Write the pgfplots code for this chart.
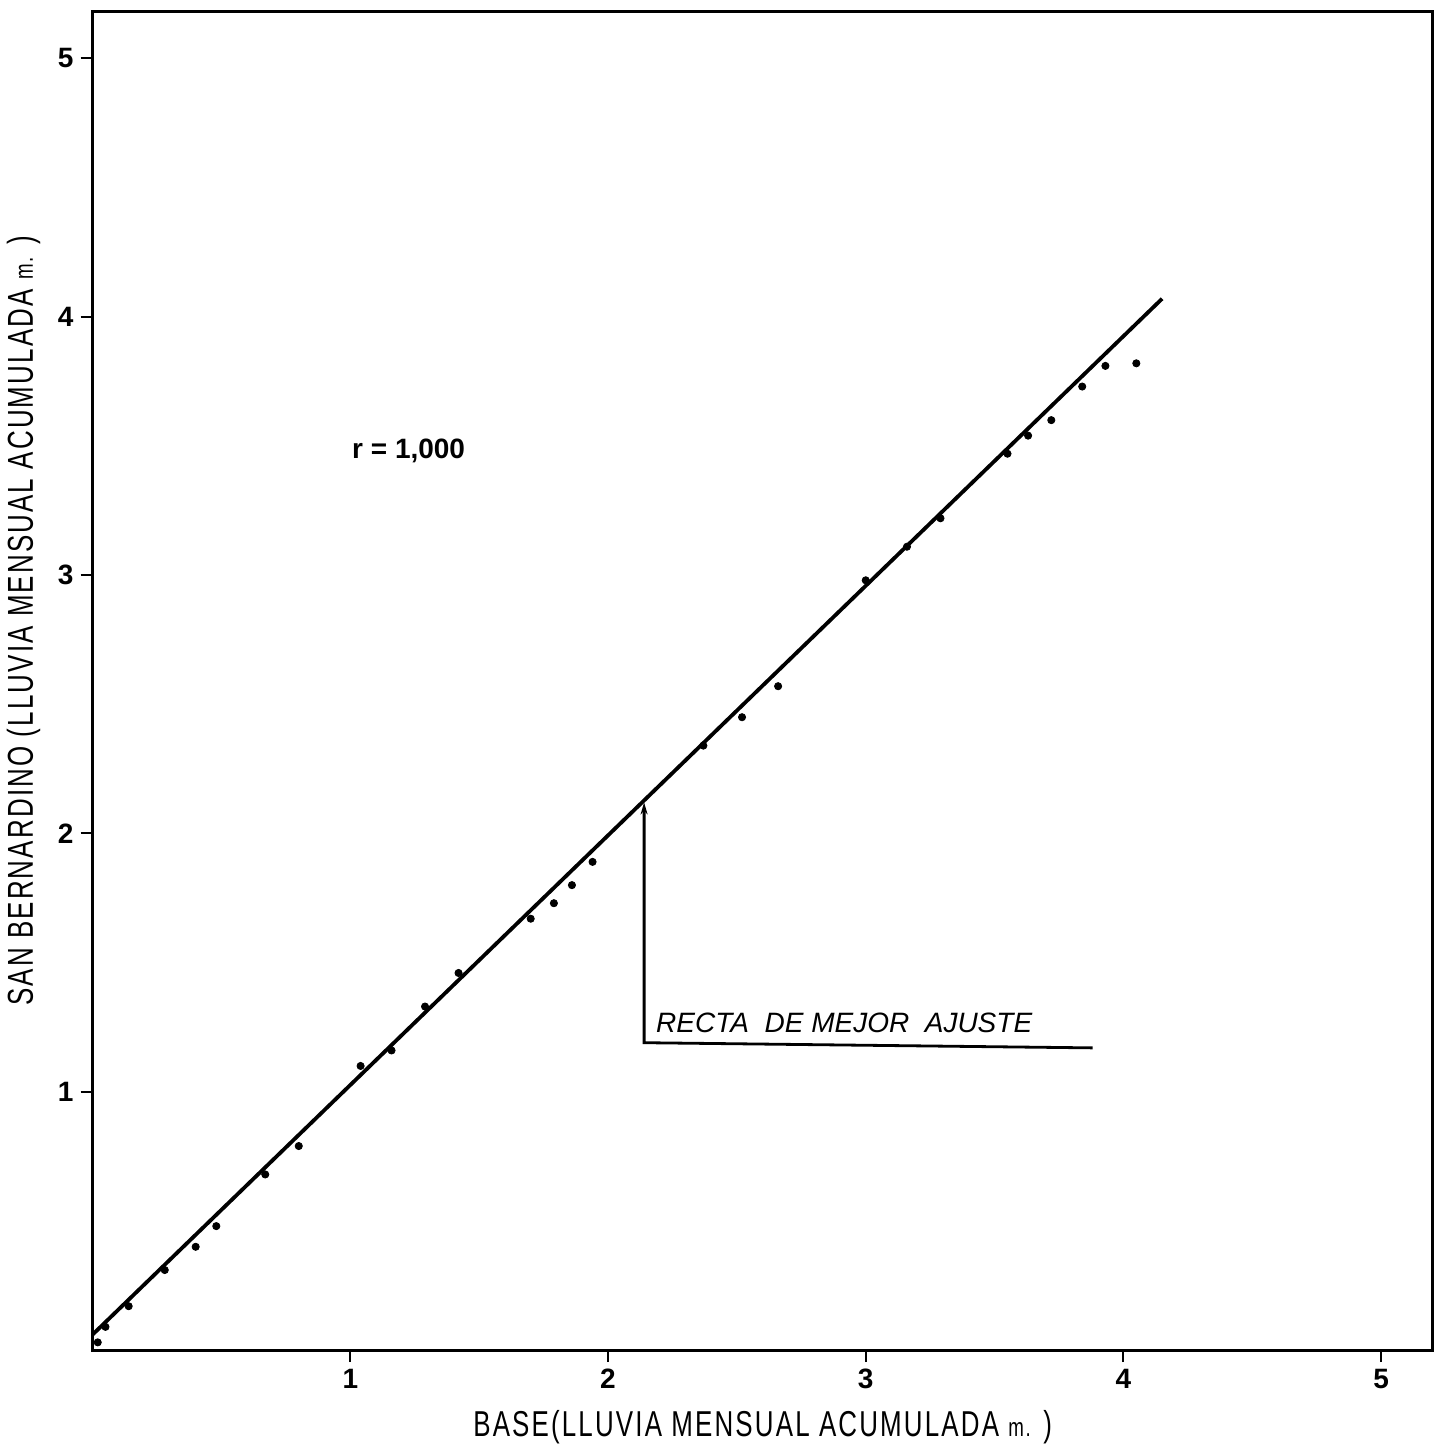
\documentclass[border=0pt]{standalone}
\usepackage{pgfplots}
\pgfplotsset{compat=1.18}
\usetikzlibrary{arrows.meta}
\usepackage{fontspec}
\setmainfont{Liberation Sans}
\newfontfamily\condfont[FakeStretch=0.72,LetterSpace=6]{Liberation Sans}
\begin{document}
\begin{tikzpicture}
\begin{axis}[
  width=670pt, height=669pt, scale only axis,
  xmin=0, xmax=5.2, ymin=0, ymax=5.18,
  xtick={1,2,3,4,5}, ytick={1,2,3,4,5},
  tick align=outside, major tick length=6pt,
  xtick pos=bottom, ytick pos=left,
  axis line style={line width=1.5pt},
  tick style={line width=1pt, black},
  ticklabel style={font=\fontsize{14}{14}\selectfont\bfseries},
  /pgf/number format/assume math mode=true,
  xlabel={\condfont\fontsize{18}{18}\selectfont BASE(LLUVIA MENSUAL ACUMULADA {\fontsize{13}{13}\selectfont m.} )},
  ylabel={\condfont\fontsize{18}{18}\selectfont SAN BERNARDINO (LLUVIA MENSUAL ACUMULADA {\fontsize{13}{13}\selectfont m.} )},
  xlabel style={yshift=-4pt},
  ylabel style={yshift=2pt, xshift=30pt},
  clip=false,
]
\addplot[black, line width=1.9pt] coordinates {(0,0.06) (4.15,4.07)};
\addplot[only marks, mark=*, mark size=1.8pt, black] coordinates {
(0.02,0.03) (0.05,0.09) (0.14,0.17) (0.28,0.31) (0.40,0.40) (0.48,0.48)
(0.67,0.68) (0.80,0.79) (1.04,1.10) (1.16,1.16) (1.29,1.33) (1.42,1.46)
(1.70,1.67) (1.79,1.73) (1.86,1.80) (1.94,1.89) (2.37,2.34) (2.52,2.45)
(2.66,2.57) (3.00,2.98) (3.16,3.11) (3.29,3.22) (3.55,3.47) (3.63,3.54)
(3.72,3.60) (3.84,3.73) (3.93,3.81) (4.05,3.82)
};
\draw[line width=1.4pt, -{Stealth[length=6pt,width=3.5pt]}] (axis cs:3.88,1.17) -- (axis cs:2.14,1.19) -- (axis cs:2.14,2.12);
\node[anchor=south west, font=\fontsize{14}{14}\selectfont\itshape, inner sep=2pt] at (axis cs:2.17,1.21) {RECTA\ \ DE MEJOR\ \ AJUSTE};
\node[anchor=west, font=\fontsize{14}{14}\selectfont\bfseries] at (axis cs:0.98,3.48) {r = 1,000};
\end{axis}
\path ([yshift=6pt]current axis.north east) ++(8pt,0pt);
\end{tikzpicture}
\end{document}
